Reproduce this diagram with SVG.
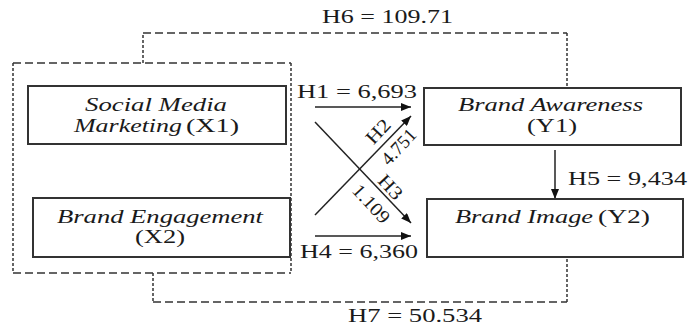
<svg xmlns="http://www.w3.org/2000/svg" width="689" height="327" viewBox="0 0 689 327">
<style>
text{font-family:"Liberation Serif","Times New Roman",serif;font-size:18px;fill:#1a1a1a}
.it{font-style:italic}
.box{fill:#fff;stroke:#333;stroke-width:2}
.dh{fill:none;stroke:#333;stroke-width:1.5;stroke-dasharray:8 4}
.dv{fill:none;stroke:#333;stroke-width:1.5;stroke-dasharray:3 2}
.ln{fill:none;stroke:#222;stroke-width:1.5}
.dg{font-size:19px}
</style>
<defs>
<marker id="ah" viewBox="0 0 10 8" refX="10" refY="4" markerWidth="10" markerHeight="8" markerUnits="userSpaceOnUse" orient="auto">
<path d="M0,0 L10,4 L0,8 Z" fill="#111"/>
</marker>
</defs>
<rect width="689" height="327" fill="#fff"/>
<g id="connectors">
<line class="dh" x1="13" y1="63" x2="291" y2="63"/>
<line class="dh" x1="13" y1="273" x2="291" y2="273"/>
<line class="dv" x1="13" y1="63" x2="13" y2="273"/>
<line class="dv" x1="291" y1="63" x2="291" y2="273"/>
<line class="dv" x1="143" y1="63" x2="143" y2="33"/>
<line class="dh" x1="143" y1="33" x2="567" y2="33"/>
<line class="dv" x1="567" y1="33" x2="567" y2="88"/>
<line class="dv" x1="153" y1="273" x2="153" y2="302"/>
<line class="dh" x1="153" y1="302" x2="567" y2="302"/>
<line class="dv" x1="567" y1="302" x2="567" y2="257"/>
<line class="ln" x1="315" y1="107" x2="411" y2="107" marker-end="url(#ah)"/>
<line class="ln" x1="315" y1="215" x2="411" y2="116" marker-end="url(#ah)"/>
<line class="ln" x1="315" y1="122" x2="411" y2="223" marker-end="url(#ah)"/>
<line class="ln" x1="315" y1="236" x2="411" y2="236" marker-end="url(#ah)"/>
<line class="ln" x1="555" y1="150" x2="555" y2="199" marker-end="url(#ah)"/>
<text x="322" y="23" textLength="131" lengthAdjust="spacingAndGlyphs">H6 = 109.71</text>
<text x="348" y="322" textLength="134" lengthAdjust="spacingAndGlyphs">H7 = 50.534</text>
<text x="297" y="98" textLength="120" lengthAdjust="spacingAndGlyphs">H1 = 6,693</text>
<text x="300" y="258" textLength="118" lengthAdjust="spacingAndGlyphs">H4 = 6,360</text>
<text x="568" y="185" textLength="119" lengthAdjust="spacingAndGlyphs">H5 = 9,434</text>
<text class="dg" x="365" y="138" textLength="27" lengthAdjust="spacingAndGlyphs" transform="rotate(-47 378 132)">H2</text>
<text class="dg" x="378" y="153" textLength="42" lengthAdjust="spacingAndGlyphs" transform="rotate(-47 399 147)">4.751</text>
<text class="dg" x="377" y="193" textLength="27" lengthAdjust="spacingAndGlyphs" transform="rotate(47 390 187)">H3</text>
<text class="dg" x="348" y="210" textLength="46" lengthAdjust="spacingAndGlyphs" transform="rotate(47 371 204)">1.109</text>
</g>
<g id="x1">
<rect class="box" x="28" y="86" width="258" height="58"/>
<text class="it" x="85" y="111" textLength="142" lengthAdjust="spacingAndGlyphs">Social Media</text>
<text class="it" x="74" y="132" textLength="108" lengthAdjust="spacingAndGlyphs">Marketing</text>
<text x="186" y="132" textLength="53" lengthAdjust="spacingAndGlyphs">(X1)</text>
</g>
<g id="x2">
<rect class="box" x="33" y="198" width="257" height="59"/>
<text class="it" x="57" y="223" textLength="206" lengthAdjust="spacingAndGlyphs">Brand Engagement</text>
<text x="135" y="243" textLength="50" lengthAdjust="spacingAndGlyphs">(X2)</text>
</g>
<g id="y1">
<rect class="box" x="424" y="88" width="257" height="57"/>
<text class="it" x="458" y="111" textLength="185" lengthAdjust="spacingAndGlyphs">Brand Awareness</text>
<text x="527" y="132" textLength="50" lengthAdjust="spacingAndGlyphs">(Y1)</text>
</g>
<g id="y2">
<rect class="box" x="427" y="199" width="256" height="58"/>
<text class="it" x="455" y="223" textLength="138" lengthAdjust="spacingAndGlyphs">Brand Image</text>
<text x="598" y="223" textLength="52" lengthAdjust="spacingAndGlyphs">(Y2)</text>
</g>
</svg>
